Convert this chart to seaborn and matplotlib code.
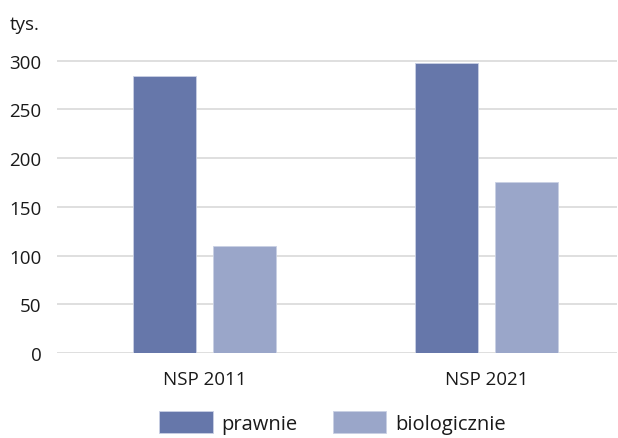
import matplotlib
matplotlib.use("Agg")
import matplotlib.pyplot as plt
import seaborn as sns
import pandas as pd

# Dane (tys.)
spisy = ["NSP 2011", "NSP 2021"]
prawnie = [284, 298]
biologicznie = [110, 175]
serie = ["prawnie", "biologicznie"]
kolory = ["#6677AA", "#9AA6C9"]

df = pd.DataFrame({
    "spis": spisy * 2,
    "seria": [serie[0]] * len(spisy) + [serie[1]] * len(spisy),
    "wartosc": prawnie + biologicznie,
})

sns.set_theme(style="white")
plt.rcParams["font.family"] = ["Open Sans", "DejaVu Sans"]

fig = plt.figure(figsize=(6.18, 4.39), dpi=100)
ax = fig.add_axes([0.092, 0.1936, 0.906, 0.677])

sns.barplot(data=df, x="spis", y="wartosc", hue="seria", hue_order=serie,
            palette=kolory, saturation=1, width=0.567, gap=0.21, ax=ax,
            edgecolor="#C9D0E4", linewidth=0.6, legend=True)

ax.set_xlim(-0.523, 1.463)
ax.set_ylim(0, 305)
ax.set_yticks([0, 50, 100, 150, 200, 250, 300])
ax.yaxis.grid(True, color="#D9D9D9", linewidth=1.2)
ax.set_axisbelow(True)
for s in ax.spines.values():
    s.set_visible(False)
ax.set_xlabel("")
ax.set_ylabel("")
ax.tick_params(axis="y", length=0, pad=11, labelsize=13.5, labelcolor="#1a1a1a")
ax.tick_params(axis="x", length=0, pad=12, labelsize=13.5, labelcolor="#1a1a1a")

fig.text(10 / 618, 1 - 25 / 439, "tys.", fontsize=13.5, color="#1a1a1a",
         ha="left", va="center")

# legenda na dole
handles, labels = ax.get_legend_handles_labels()
ax.get_legend().remove()
fig.legend(handles, labels, loc="center", bbox_to_anchor=(0.538, 0.036),
           ncol=2, frameon=False, fontsize=14.5, handlelength=2.64,
           handleheight=1.3, handletextpad=0.45, columnspacing=1.74,
           labelcolor="#1a1a1a", borderpad=0)

fig.savefig("out.png", dpi=100)
